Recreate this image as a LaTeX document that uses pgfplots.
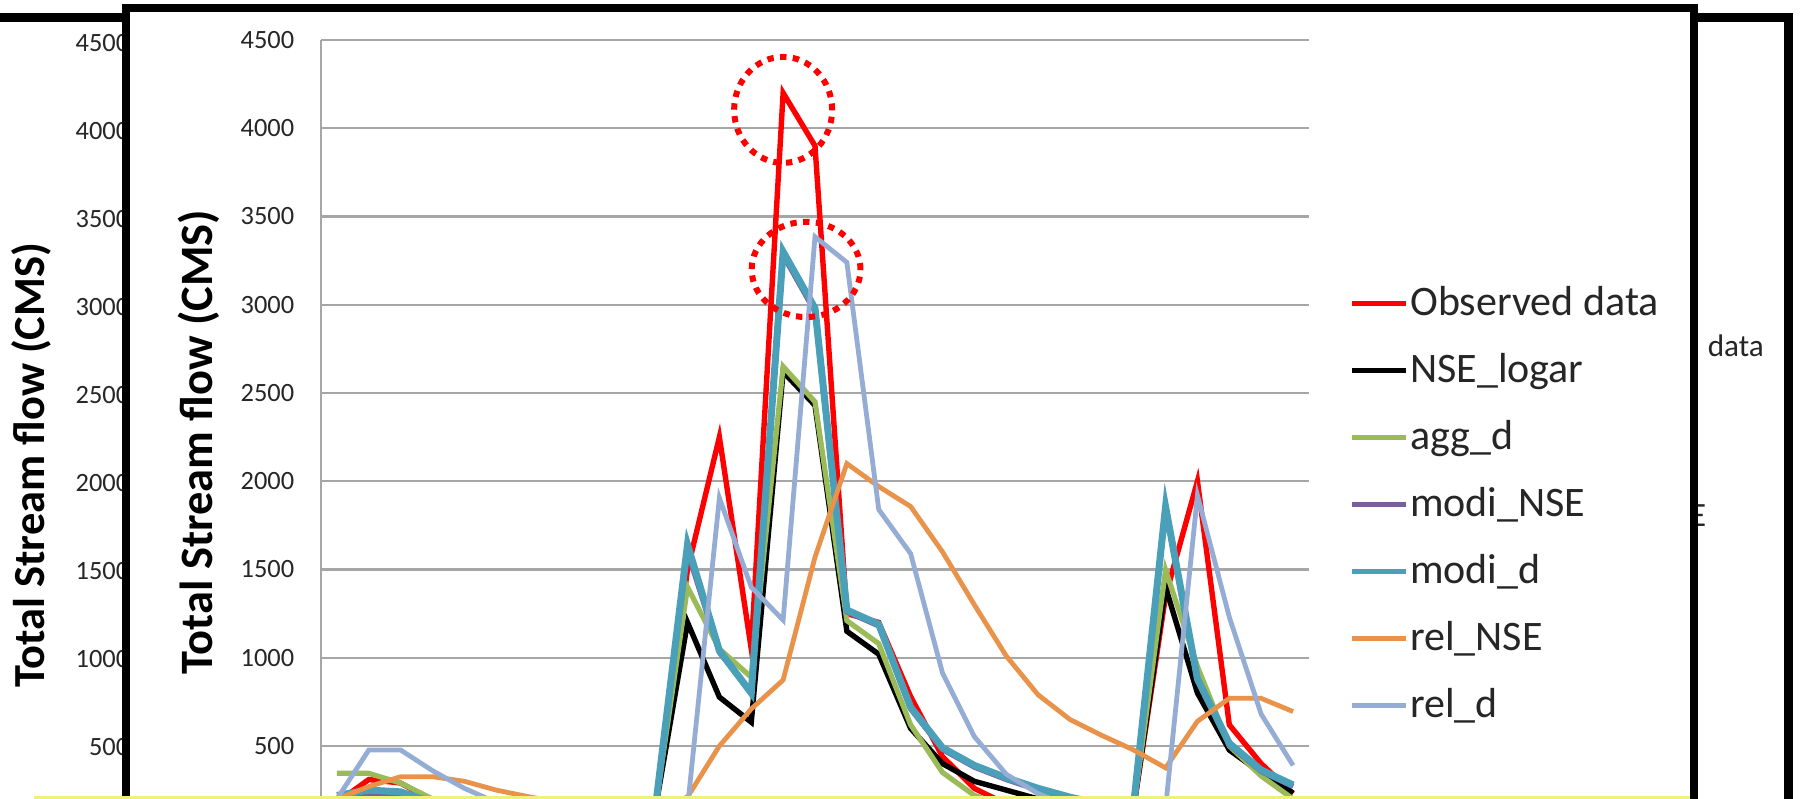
\documentclass[border=0pt]{standalone}
\usepackage{pgfplots}
\pgfplotsset{compat=1.18}
\usepackage{pgfplotstable}
\usepackage{fontspec}
\setmainfont{Carlito}
\definecolor{cobs}{HTML}{FF0000}
\definecolor{cagg}{HTML}{9BBB59}
\definecolor{cmnse}{HTML}{7B5EA0}
\definecolor{cmd}{HTML}{4AA0B8}
\definecolor{crnse}{HTML}{E8924A}
\definecolor{crd}{HTML}{95ADD5}
\definecolor{cgrid}{HTML}{A6A6A6}
\definecolor{cyel}{HTML}{EEF27A}
\definecolor{ctxt}{HTML}{262626}

\pgfplotstableread{
x obs nse agg mnse md rnse rd
0 180 180 345 200 220 200 200
1 310 200 345 230 250 270 477
2 290 190 290 225 240 326 477
3 190 150 200 170 180 326 360
4 150 120 150 130 140 300 260
5 130 110 120 110 110 250 180
6 120 100 120 100 110 213 140
7 110 100 110 100 110 180 120
8 100 100 110 100 110 160 110
9 100 100 110 100 110 150 100
10 150 150 160 160 160 140 100
11 1500 1200 1400 1600 1640 211 150
12 2250 777 1050 1030 1040 500 1905
13 1050 635 890 800 800 710 1400
14 4200 2620 2650 3280 3300 874 1213
15 3900 2430 2450 2960 2980 1570 3385
16 1250 1150 1210 1260 1270 2100 3240
17 1200 1020 1080 1180 1190 1970 1840
18 780 600 620 710 720 1857 1590
19 440 400 350 480 490 1600 914
20 260 300 220 380 390 1300 553
21 170 250 160 310 320 1010 340
22 140 200 130 250 260 790 230
23 120 160 110 200 210 650 160
24 110 130 100 170 170 560 130
25 150 150 150 170 170 477 110
26 1350 1400 1497 1840 1855 376 150
27 2000 800 950 870 880 640 1920
28 620 477 500 505 515 770 1230
29 400 347 330 355 364 770 680
30 230 233 200 270 279 695 390
}\flow

\begin{document}
\begin{tikzpicture}
\useasboundingbox (0pt,0pt) rectangle (450pt,199.75pt);
\clip (0pt,0pt) rectangle (450pt,199.75pt);
\fill[white] (0pt,0pt) rectangle (450pt,199.75pt);
% back panel
\draw[line width=2.25pt] (-10pt,-20pt) rectangle (447.1pt,195.4pt);
\begin{axis}[at={(39pt,-9pt)}, anchor=south west, scale only axis,
  width=300pt, height=198pt, xmin=0, xmax=1, ymin=0, ymax=4500,
  ytick={500,1000,...,4500}, xtick=\empty, axis line style={draw=none},
  major tick length=0pt,
  /pgf/number format/assume math mode=true, /pgf/number format/1000 sep={},
  yticklabel style={font=\fontsize{6.6}{8}\selectfont, text=ctxt, anchor=east, inner sep=0pt, xshift=-6.5pt},
  ylabel={Total Stream flow (CMS)},
  every axis y label/.style={at={(axis description cs:-0.104,0.467)}, rotate=90, anchor=center, font=\bfseries\fontsize{11.1}{13}\selectfont}]
\end{axis}
\node[anchor=base west, inner sep=0pt, font=\fontsize{7.8}{9}\selectfont, text=ctxt] at (426.75pt,110.5pt) {data};
\node[anchor=base east, inner sep=0pt, font=\fontsize{8.5}{10}\selectfont, text=ctxt] at (426.75pt,68pt) {E};
% front panel
\draw[line width=2pt, fill=white] (31.5pt,-20pt) rectangle (423.5pt,197.75pt);
\begin{axis}[at={(80.25pt,-8.8125pt)}, anchor=south west, scale only axis,
  width=247pt, height=198.5625pt, xmin=-0.5, xmax=30.5, ymin=0, ymax=4500,
  ytick={0,500,...,4500}, yticklabels={,500,1000,1500,2000,2500,3000,3500,4000,4500}, xtick=\empty,
  axis x line=none, axis y line*=left, axis line style={-},
  y axis line style={cgrid, line width=0.6pt},
  ymajorgrids, grid style={cgrid, line width=0.6pt},
  major tick length=0pt,
  /pgf/number format/assume math mode=true, /pgf/number format/1000 sep={},
  yticklabel style={font=\fontsize{6.6}{8}\selectfont, text=ctxt, anchor=east, inner sep=0pt, xshift=-6.5pt},
  ylabel={Total Stream flow (CMS)},
  every axis y label/.style={at={(axis description cs:-0.1235,0.4939)}, rotate=90, anchor=center, font=\bfseries\fontsize{11.6}{14}\selectfont},
  legend style={at={(axis description cs:1.0405,0.6946)}, anchor=north west, draw=none, fill=none,
    font=\fontsize{10.5}{12}\selectfont, text=ctxt, row sep=6.75pt, inner sep=0pt,
    nodes={inner sep=0pt, text height=8pt, text depth=2pt}, column sep=0.3pt},
  legend cell align=left,
  legend image code/.code={\draw[#1, line width=1.3pt] (0pt,0pt) -- (13.5pt,0pt);}]
\addplot[cobs, line width=1.35pt] table[x=x,y=obs]{\flow};
\addlegendentry{Observed data}
\addplot[black, line width=1.35pt] table[x=x,y=nse]{\flow};
\addlegendentry{NSE\_logar}
\addplot[cagg, line width=1.3pt] table[x=x,y=agg]{\flow};
\addlegendentry{agg\_d}
\addplot[cmnse, line width=1.3pt] table[x=x,y=mnse]{\flow};
\addlegendentry{modi\_NSE}
\addplot[cmd, line width=1.75pt] table[x=x,y=md]{\flow};
\addlegendentry{modi\_d}
\addplot[crnse, line width=1.2pt] table[x=x,y=rnse]{\flow};
\addlegendentry{rel\_NSE}
\addplot[crd, line width=1.2pt] table[x=x,y=rd]{\flow};
\addlegendentry{rel\_d}
\draw[red, line width=1.5pt, dash pattern=on 1.6pt off 1.6pt] (axis cs:14,4104) ellipse [x radius=12.25pt, y radius=13.25pt];
\draw[red, line width=1.5pt, dash pattern=on 1.6pt off 1.6pt] (axis cs:14.72,3200) ellipse [x radius=13.6pt, y radius=11.9pt];
\end{axis}
\fill[cyel] (8.5pt,0pt) rectangle (422.5pt,0.8pt);
\end{tikzpicture}
\end{document}
